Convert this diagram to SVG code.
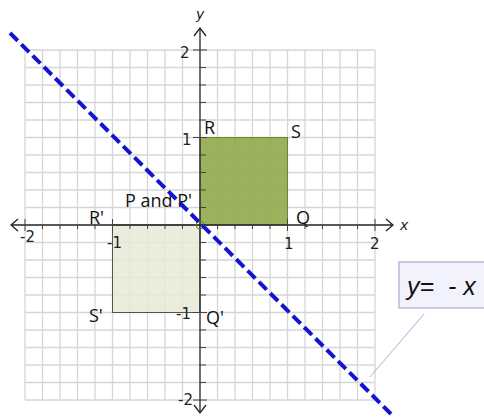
<svg xmlns="http://www.w3.org/2000/svg" width="484" height="419" viewBox="0 0 484 419">
<style>
.grid line{stroke:#d6d6d6;stroke-width:1.3}
.axis{stroke:#222;stroke-width:1.3;fill:none}
.tick{stroke:#444;stroke-width:1}
.lbl{font-family:"Open Sans","DejaVu Sans",sans-serif;font-size:18px;fill:#111}
.num{font-family:"DejaVu Sans",sans-serif;font-size:15px;fill:#222}
.ax{font-family:"DejaVu Sans",sans-serif;font-size:14px;font-style:italic;fill:#222}
</style>
<rect width="484" height="419" fill="#ffffff"/>
<g id="grid" class="grid">
<line x1="25" y1="50" x2="25" y2="400"/><line x1="42.5" y1="50" x2="42.5" y2="400"/><line x1="60" y1="50" x2="60" y2="400"/><line x1="77.5" y1="50" x2="77.5" y2="400"/><line x1="95" y1="50" x2="95" y2="400"/><line x1="112.5" y1="50" x2="112.5" y2="400"/><line x1="130" y1="50" x2="130" y2="400"/><line x1="147.5" y1="50" x2="147.5" y2="400"/><line x1="165" y1="50" x2="165" y2="400"/><line x1="182.5" y1="50" x2="182.5" y2="400"/><line x1="217.5" y1="50" x2="217.5" y2="400"/><line x1="235" y1="50" x2="235" y2="400"/><line x1="252.5" y1="50" x2="252.5" y2="400"/><line x1="270" y1="50" x2="270" y2="400"/><line x1="287.5" y1="50" x2="287.5" y2="400"/><line x1="305" y1="50" x2="305" y2="400"/><line x1="322.5" y1="50" x2="322.5" y2="400"/><line x1="340" y1="50" x2="340" y2="400"/><line x1="357.5" y1="50" x2="357.5" y2="400"/><line x1="375" y1="50" x2="375" y2="400"/>
<line x1="25" y1="50" x2="375" y2="50"/><line x1="25" y1="67.5" x2="375" y2="67.5"/><line x1="25" y1="85" x2="375" y2="85"/><line x1="25" y1="102.5" x2="375" y2="102.5"/><line x1="25" y1="120" x2="375" y2="120"/><line x1="25" y1="137.5" x2="375" y2="137.5"/><line x1="25" y1="155" x2="375" y2="155"/><line x1="25" y1="172.5" x2="375" y2="172.5"/><line x1="25" y1="190" x2="375" y2="190"/><line x1="25" y1="207.5" x2="375" y2="207.5"/><line x1="25" y1="242.5" x2="375" y2="242.5"/><line x1="25" y1="260" x2="375" y2="260"/><line x1="25" y1="277.5" x2="375" y2="277.5"/><line x1="25" y1="295" x2="375" y2="295"/><line x1="25" y1="312.5" x2="375" y2="312.5"/><line x1="25" y1="330" x2="375" y2="330"/><line x1="25" y1="347.5" x2="375" y2="347.5"/><line x1="25" y1="365" x2="375" y2="365"/><line x1="25" y1="382.5" x2="375" y2="382.5"/><line x1="25" y1="400" x2="375" y2="400"/>
</g>
<g id="square-PQRS">
<rect x="200" y="137.5" width="87.5" height="87.5" fill="#92aa4e" fill-opacity="0.92" stroke="#6f7f3a" stroke-width="1"/>
<text class="lbl" x="204" y="134">R</text>
<text class="lbl" x="291" y="138">S</text>
<text class="lbl" x="296" y="224" font-size="19">Q</text>
</g>
<g id="square-image">
<rect x="112.5" y="225" width="87.5" height="87.5" fill="#e6ead6" fill-opacity="0.85" stroke="#555" stroke-width="1"/>
<text class="lbl" x="89" y="224">R'</text>
<text class="lbl" x="89" y="322" font-size="19">S'</text>
<text class="lbl" x="206" y="324" font-size="19">Q'</text>
</g>
<g id="axes">
<line class="axis" x1="12" y1="225" x2="392" y2="225"/>
<line class="axis" x1="200" y1="28" x2="200" y2="413"/>
<path class="axis" d="M386 219 L393 225 L386 231" stroke="#777"/>
<path class="axis" d="M18 219 L11 225 L18 231" stroke="#777"/>
<path class="axis" d="M194 36 L200 28 L206 36" stroke="#777"/>
<path class="axis" d="M194 405 L200 413 L206 405" stroke="#777"/>
<g class="tick">
<line x1="193" y1="50" x2="207" y2="50"/><line x1="200" y1="67.5" x2="206" y2="67.5"/><line x1="200" y1="85" x2="206" y2="85"/><line x1="200" y1="102.5" x2="206" y2="102.5"/><line x1="200" y1="120" x2="206" y2="120"/><line x1="193" y1="137.5" x2="207" y2="137.5"/><line x1="200" y1="155" x2="206" y2="155"/><line x1="200" y1="172.5" x2="206" y2="172.5"/><line x1="200" y1="190" x2="206" y2="190"/><line x1="200" y1="207.5" x2="206" y2="207.5"/><line x1="200" y1="242.5" x2="206" y2="242.5"/><line x1="200" y1="260" x2="206" y2="260"/><line x1="200" y1="277.5" x2="206" y2="277.5"/><line x1="200" y1="295" x2="206" y2="295"/><line x1="193" y1="312.5" x2="207" y2="312.5"/><line x1="200" y1="330" x2="206" y2="330"/><line x1="200" y1="347.5" x2="206" y2="347.5"/><line x1="200" y1="365" x2="206" y2="365"/><line x1="200" y1="382.5" x2="206" y2="382.5"/><line x1="193" y1="400" x2="207" y2="400"/>
<line x1="25" y1="219" x2="25" y2="231"/><line x1="42.5" y1="225" x2="42.5" y2="229"/><line x1="60" y1="225" x2="60" y2="229"/><line x1="77.5" y1="225" x2="77.5" y2="229"/><line x1="95" y1="225" x2="95" y2="229"/><line x1="112.5" y1="219" x2="112.5" y2="231"/><line x1="130" y1="225" x2="130" y2="229"/><line x1="147.5" y1="225" x2="147.5" y2="229"/><line x1="165" y1="225" x2="165" y2="229"/><line x1="182.5" y1="225" x2="182.5" y2="229"/><line x1="217.5" y1="225" x2="217.5" y2="229"/><line x1="235" y1="225" x2="235" y2="229"/><line x1="252.5" y1="225" x2="252.5" y2="229"/><line x1="270" y1="225" x2="270" y2="229"/><line x1="287.5" y1="219" x2="287.5" y2="231"/><line x1="305" y1="225" x2="305" y2="229"/><line x1="322.5" y1="225" x2="322.5" y2="229"/><line x1="340" y1="225" x2="340" y2="229"/><line x1="357.5" y1="225" x2="357.5" y2="229"/><line x1="375" y1="219" x2="375" y2="231"/>
</g>
<text class="ax" x="196" y="19">y</text>
<text class="ax" x="400" y="230">x</text>
<text class="num" x="180" y="58">2</text>
<text class="num" x="182" y="145">1</text>
<text class="num" x="20" y="242">-2</text>
<text class="num" x="107" y="248">-1</text>
<text class="num" x="284" y="249">1</text>
<text class="num" x="370" y="249">2</text>
<text class="num" x="176" y="319">-1</text>
<text class="num" x="178" y="405">-2</text>
</g>
<g id="label-P">
<circle cx="200" cy="225" r="4" fill="none" stroke="#6f7f3a" stroke-width="1"/>
<text class="lbl" x="125" y="207" font-size="17">P and P'</text>
</g>
<g id="line-y-neg-x">
<line x1="10" y1="33" x2="391" y2="414" stroke="#1414d2" stroke-width="4" stroke-dasharray="11 5"/>
</g>
<g id="connectors">
<line x1="424" y1="314" x2="370" y2="377" stroke="#a8b0d8" stroke-width="1"/>
</g>
<g id="label-equation">
<rect x="399" y="262" width="90" height="46" fill="#f2f2fc" stroke="#a8a8d8" stroke-width="1.2"/>
<text x="407" y="295" font-family="Liberation Sans, sans-serif" font-size="25" font-style="italic" fill="#111" xml:space="preserve">y=  - x</text>
</g>
</svg>
